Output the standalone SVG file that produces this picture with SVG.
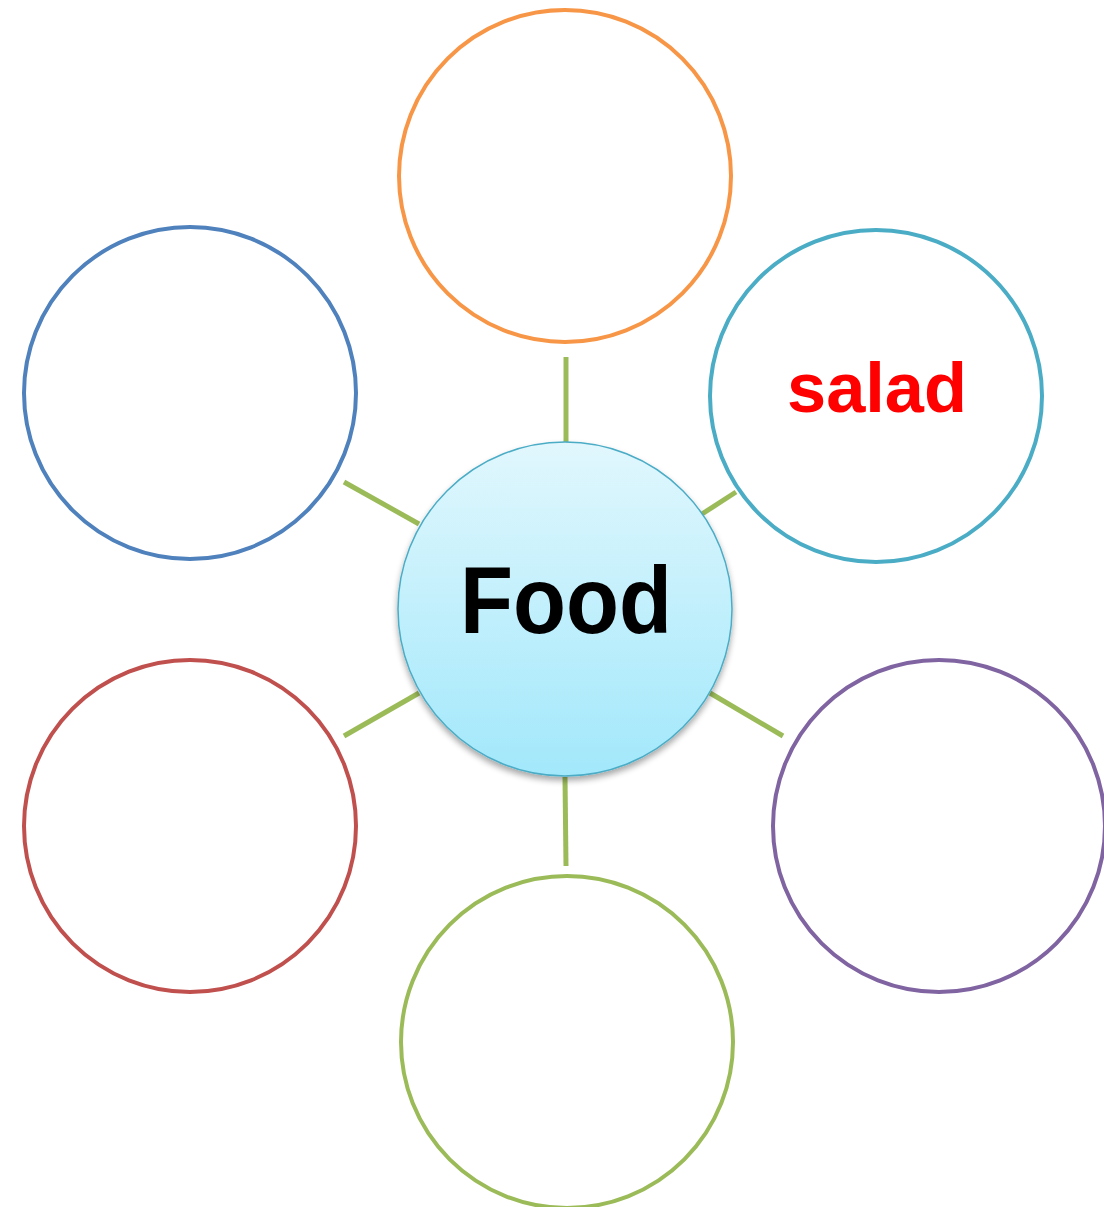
<svg xmlns="http://www.w3.org/2000/svg" width="1104" height="1207" viewBox="0 0 1104 1207">
<style>
.ring{fill:#FFFFFF;stroke-width:4}
.conn line{stroke:#9BBB59;stroke-width:5;stroke-linecap:butt}
.lbl{font-family:"Century Gothic","Liberation Sans",Arial,sans-serif;font-weight:bold;text-anchor:middle}
</style>
<defs>
<linearGradient id="hub" x1="0" y1="0" x2="0" y2="1">
<stop offset="0" stop-color="#E1F7FD"/>
<stop offset="1" stop-color="#A2E8FB"/>
</linearGradient>
<filter id="sh" x="-20%" y="-20%" width="140%" height="150%">
<feGaussianBlur in="SourceAlpha" stdDeviation="3"/>
<feOffset dy="4"/>
<feComponentTransfer><feFuncA type="linear" slope="0.35"/></feComponentTransfer>
<feMerge><feMergeNode/><feMergeNode in="SourceGraphic"/></feMerge>
</filter>
</defs>
<rect width="1104" height="1207" fill="#FFFFFF"/>
<g id="connectors" class="conn">
<line x1="566" y1="357" x2="566" y2="445"/>
<line x1="344" y1="482" x2="419" y2="524"/>
<line x1="702" y1="514" x2="736" y2="492"/>
<line x1="344" y1="736" x2="419" y2="693"/>
<line x1="710" y1="693" x2="783" y2="736"/>
<line x1="565" y1="777" x2="566" y2="866"/>
</g>
<g id="node-top"><circle class="ring" cx="565" cy="176" r="166" stroke="#F79646"/></g>
<g id="node-left-top"><circle class="ring" cx="190" cy="393" r="166" stroke="#4F81BD"/></g>
<g id="node-right-top"><circle class="ring" cx="876" cy="396" r="166" stroke="#4BACC6"/>
<text class="lbl" x="877" y="412" font-size="71" fill="#FF0000" textLength="180" lengthAdjust="spacingAndGlyphs">salad</text></g>
<g id="node-left-bottom"><circle class="ring" cx="190" cy="826" r="166" stroke="#C0504D"/></g>
<g id="node-right-bottom"><circle class="ring" cx="939" cy="826" r="166" stroke="#8064A2"/></g>
<g id="node-bottom"><circle class="ring" cx="567" cy="1042" r="166" stroke="#9BBB59"/></g>
<g id="node-center"><circle cx="565" cy="609" r="167" fill="url(#hub)" stroke="#4BACC6" stroke-width="1.5" filter="url(#sh)"/>
<text class="lbl" x="566" y="633" font-size="94" fill="#000000" textLength="212" lengthAdjust="spacingAndGlyphs">Food</text></g>
</svg>
